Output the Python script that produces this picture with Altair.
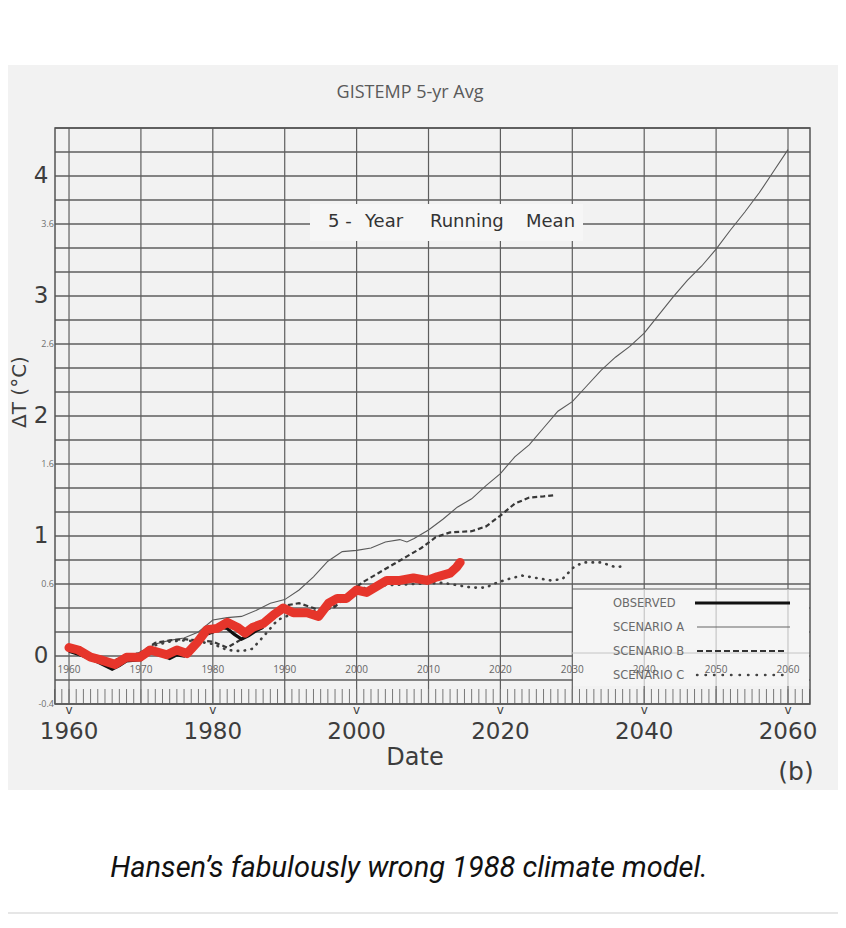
import altair as alt
import pandas as pd

# ---------------- data ----------------
obs_year = [1960, 1962, 1964, 1966, 1967, 1968, 1970, 1971, 1972, 1974, 1975, 1976,
            1977, 1978, 1979, 1980, 1981, 1982, 1983, 1984, 1985, 1986, 1987]
obs_val = [0.04, 0.00, -0.05, -0.11, -0.08, -0.04, -0.03, 0.02, 0.03, -0.02, 0.01, 0.00,
           0.06, 0.12, 0.18, 0.20, 0.24, 0.23, 0.18, 0.14, 0.17, 0.21, 0.24]

a_year = [1960, 1962, 1964, 1966, 1968, 1970, 1972, 1974, 1976, 1978, 1980, 1982, 1984,
          1986, 1988, 1990, 1992, 1994, 1996, 1998, 2000, 2002, 2004, 2006, 2007, 2008,
          2010, 2012, 2014, 2016, 2018, 2020, 2022, 2024, 2026, 2028, 2030, 2032, 2034,
          2036, 2038, 2040, 2042, 2044, 2046, 2048, 2050, 2052, 2054, 2056, 2058, 2060]
a_val = [0.05, 0.02, -0.02, -0.04, -0.01, 0.03, 0.10, 0.13, 0.15, 0.20, 0.30, 0.32, 0.33,
         0.38, 0.44, 0.47, 0.55, 0.66, 0.79, 0.87, 0.88, 0.90, 0.95, 0.97, 0.95, 0.98,
         1.05, 1.14, 1.24, 1.31, 1.42, 1.52, 1.66, 1.76, 1.90, 2.04, 2.12, 2.25, 2.38,
         2.49, 2.58, 2.69, 2.84, 2.99, 3.13, 3.25, 3.39, 3.55, 3.70, 3.86, 4.04, 4.22]

b_year = [1960, 1962, 1964, 1966, 1968, 1970, 1972, 1974, 1976, 1978, 1980, 1982, 1984,
          1986, 1988, 1990, 1992, 1994, 1995, 1997, 1999, 2001, 2003, 2005, 2007, 2009,
          2011, 2013, 2016, 2018, 2020, 2022, 2024, 2026, 2027.5]
b_val = [0.05, 0.02, -0.02, -0.04, -0.01, 0.03, 0.11, 0.13, 0.14, 0.13, 0.12, 0.07, 0.14,
         0.24, 0.31, 0.42, 0.44, 0.40, 0.37, 0.41, 0.53, 0.62, 0.69, 0.76, 0.83, 0.90,
         0.99, 1.03, 1.04, 1.08, 1.17, 1.27, 1.32, 1.33, 1.34]

c_year = [1960, 1962, 1964, 1966, 1968, 1970, 1972, 1974, 1976, 1978, 1980, 1982, 1984,
          1985.5, 1987, 1989, 1991, 1993, 1995, 1997, 1999, 2000, 2002, 2004, 2008, 2012,
          2014, 2016, 2018, 2019, 2021, 2023, 2025, 2027, 2028.6, 2029.4, 2030.2, 2031.5,
          2034, 2036, 2037.5]
c_val = [0.05, 0.02, -0.02, -0.04, -0.01, 0.03, 0.09, 0.12, 0.13, 0.12, 0.10, 0.05, 0.04,
         0.06, 0.16, 0.30, 0.35, 0.37, 0.38, 0.43, 0.51, 0.55, 0.58, 0.59, 0.60, 0.61,
         0.59, 0.57, 0.57, 0.60, 0.64, 0.67, 0.65, 0.63, 0.64, 0.69, 0.74, 0.78,
         0.78, 0.74, 0.75]

gis_year = [1960, 1961.3, 1963, 1964.3, 1966.4, 1968, 1969.9, 1971.3, 1973.6, 1975,
            1976.4, 1977.8, 1979.2, 1980.6, 1982, 1983.4, 1984.5, 1985.6, 1987, 1988.4,
            1989.8, 1991.2, 1993.1, 1994.7, 1996.1, 1997.3, 1998.6, 2000, 2001.4, 2002.8,
            2004.2, 2006, 2007.9, 2009.8, 2011.2, 2013, 2013.9, 2014.4]
gis_val = [0.07, 0.05, -0.01, -0.03, -0.07, -0.01, -0.01, 0.05, 0.01, 0.05,
           0.02, 0.11, 0.22, 0.23, 0.28, 0.24, 0.19, 0.24, 0.27, 0.34,
           0.40, 0.36, 0.36, 0.33, 0.44, 0.48, 0.48, 0.55, 0.53, 0.58,
           0.63, 0.63, 0.65, 0.63, 0.66, 0.69, 0.74, 0.78]

decade_years = [1960, 1970, 1980, 1990, 2000, 2010, 2020, 2030, 2040, 2050, 2060]
big_x_years = [1960, 1980, 2000, 2020, 2040, 2060]
big_y_vals = [0, 1, 2, 3, 4]
small_y_vals = [-0.4, 0.6, 1.6, 2.6, 3.6]
minor_tick_years = list(range(1958, 2064))
grid_vals = [round(-0.4 + 0.2 * i, 1) for i in range(25)]

# ---------------- layout helpers ----------------
XDOM = [1958.05, 2063.06]
YDOM = [-0.4, 4.4]
W, H = 755, 576
X0, Y0 = 55, 128          # page position of the plot origin
BG = "#f2f2f2"
INK = "#3d3d3d"
GRID = "#5e5e5e"


def px(x):
    return x - X0


def py(y):
    return y - Y0


xs = alt.Scale(domain=XDOM, nice=False, zero=False)
ys = alt.Scale(domain=YDOM, nice=False, zero=False)
one = alt.Data(values=[{"a": 1}])


def X(field):
    return alt.X(field, scale=xs, axis=None)


def Y(field):
    return alt.Y(field, scale=ys, axis=None)


def line_layer(years, vals, **mk):
    df = pd.DataFrame({"year": years, "v": vals})
    return alt.Chart(df).mark_line(**mk).encode(x=X("year:Q"), y=Y("v:Q"))


def label(text, x, y, size, **kw):
    return alt.Chart(one).mark_text(fontSize=size, **kw).encode(
        x=alt.value(px(x)), y=alt.value(py(y)), text=alt.value(text))


def box(x1, x2, y1, y2, **kw):
    return alt.Chart(one).mark_rect(**kw).encode(
        x=alt.value(px(x1)), x2=alt.value(px(x2)),
        y=alt.value(py(y1)), y2=alt.value(py(y2)))


def hrule(x1, x2, y, **kw):
    return alt.Chart(one).mark_rule(**kw).encode(
        x=alt.value(px(x1)), x2=alt.value(px(x2)), y=alt.value(py(y)))


layers = []

# scanned-paper background
layers.append(box(0, 846, 65, 790, fill=BG))

# grid
layers.append(alt.Chart(pd.DataFrame({"v": grid_vals})).mark_rule(
    color=GRID, strokeWidth=1.3).encode(y=Y("v:Q"), x=alt.value(0), x2=alt.value(W)))
layers.append(alt.Chart(pd.DataFrame({"year": decade_years})).mark_rule(
    color=GRID, strokeWidth=1.2).encode(x=X("year:Q"), y=alt.value(0), y2=alt.value(H)))

# yearly tick band at the bottom
layers.append(alt.Chart(pd.DataFrame({"year": minor_tick_years})).mark_rule(
    color="#777777", strokeWidth=1).encode(x=X("year:Q"), y=alt.value(H - 15), y2=alt.value(H)))

# paper-coloured box behind "5-Year Running Mean"
layers.append(box(310, 583, 204, 241, fill="#f6f6f6"))

# legend box
layers.append(box(573, 809, 589, 686, fill="#f5f5f5"))
layers.append(hrule(572, 810, 589, color=GRID, strokeWidth=1.2))
layers.append(hrule(572, 810, 653, color="#c4c4c4", strokeWidth=1))
layers.append(alt.Chart(pd.DataFrame({"year": [2040, 2050, 2060]})).mark_rule(
    color="#bdbdbd", strokeWidth=1).encode(x=X("year:Q"), y=alt.value(py(589)), y2=alt.value(py(686))))

# frame
layers.append(box(55, 810, 128, 704, filled=False, stroke="#555555", strokeWidth=1.5))

# series
layers.append(line_layer(a_year, a_val, color="#5a5a5a", strokeWidth=1.1))
layers.append(line_layer(b_year, b_val, color="#383838", strokeWidth=2.2, strokeDash=[5, 3]))
layers.append(line_layer(c_year, c_val, color="#404040", strokeWidth=2.6,
                         strokeDash=[0.5, 6.5], strokeCap="round"))
layers.append(line_layer(obs_year, obs_val, color="#111111", strokeWidth=3.2))
layers.append(line_layer(gis_year, gis_val, color="#e6352b", strokeWidth=9,
                         strokeCap="round", strokeJoin="round"))

# Hansen lettering
HF = "DejaVu Sans"
layers.append(alt.Chart(pd.DataFrame({"v": big_y_vals, "t": [str(v) for v in big_y_vals]})).mark_text(
    font=HF, fontSize=23, color=INK, align="center", baseline="middle").encode(
    y=Y("v:Q"), x=alt.value(px(41)), text="t:N"))
layers.append(alt.Chart(pd.DataFrame({"year": big_x_years, "t": [str(v) for v in big_x_years]})).mark_text(
    font=HF, fontSize=23, color=INK, align="center", baseline="middle").encode(
    x=X("year:Q"), y=alt.value(py(732)), text="t:N"))
layers.append(alt.Chart(pd.DataFrame({"year": big_x_years})).mark_text(
    font=HF, fontSize=12, color=INK, align="center", baseline="middle").encode(
    x=X("year:Q"), y=alt.value(py(710)), text=alt.value("v")))
layers.append(label("Date", 415, 758, 24, font=HF, color=INK, align="center", baseline="middle"))
layers.append(label("(b)", 796, 772, 25, font=HF, color=INK, align="center", baseline="middle"))
layers.append(label("\u0394T (\u00b0C)", 20, 392, 20, font=HF, color=INK, align="center",
                    baseline="middle", angle=270))

for word, x in [("5 -", 328), ("Year", 365), ("Running", 430), ("Mean", 526)]:
    layers.append(label(word, x, 222, 18, font=HF, color="#333333", align="left", baseline="middle"))

# legend entries
LF = "DejaVu Sans"
legend_rows = [("OBSERVED", 604), ("SCENARIO A", 628), ("SCENARIO B", 652), ("SCENARIO C", 676)]
for t, y in legend_rows:
    layers.append(label(t, 613, y, 11.5, font=LF, color="#6a6a6a", align="left", baseline="middle"))
layers.append(hrule(695, 790, 603, color="#111111", strokeWidth=3))
layers.append(hrule(697, 790, 627, color="#666666", strokeWidth=1.2))
layers.append(hrule(697, 787, 651, color="#333333", strokeWidth=2.2, strokeDash=[6, 3]))
layers.append(hrule(697, 790, 675, color="#444444", strokeWidth=2.4, strokeDash=[0.5, 8],
                    strokeCap="round"))

# overlay (GISTEMP chart) small labels
OF = "Open Sans"
layers.append(alt.Chart(pd.DataFrame({"year": decade_years, "t": [str(v) for v in decade_years]})).mark_text(
    font=OF, fontSize=10, color="#666666", align="center", baseline="middle").encode(
    x=X("year:Q"), y=alt.value(py(670)), text="t:N"))
layers.append(alt.Chart(pd.DataFrame({"v": small_y_vals, "t": [str(v) for v in small_y_vals]})).mark_text(
    font=OF, fontSize=9, color="#707070", align="right", baseline="middle").encode(
    y=Y("v:Q"), x=alt.value(px(54)), text="t:N"))
layers.append(label("GISTEMP 5-yr Avg", 410, 93, 18, font=OF, color="#5a5a5a",
                    align="center", baseline="middle"))

# caption and separator
layers.append(label("Hansen\u2019s fabulously wrong 1988 climate model.", 409, 868, 29,
                    font="Roboto", fontStyle="italic", color="#111111",
                    align="center", baseline="middle"))
layers.append(hrule(0, 846, 913, color="#e6e6e6", strokeWidth=2))

chart = alt.layer(*layers).properties(
    width=W, height=H,
    padding={"left": 47, "top": 120, "right": 28, "bottom": 212},
    autosize=alt.AutoSizeParams(type="none"),
    background="white",
).configure_view(stroke="transparent")

chart.save("out.html", embed_options={"renderer": "svg", "actions": False})
